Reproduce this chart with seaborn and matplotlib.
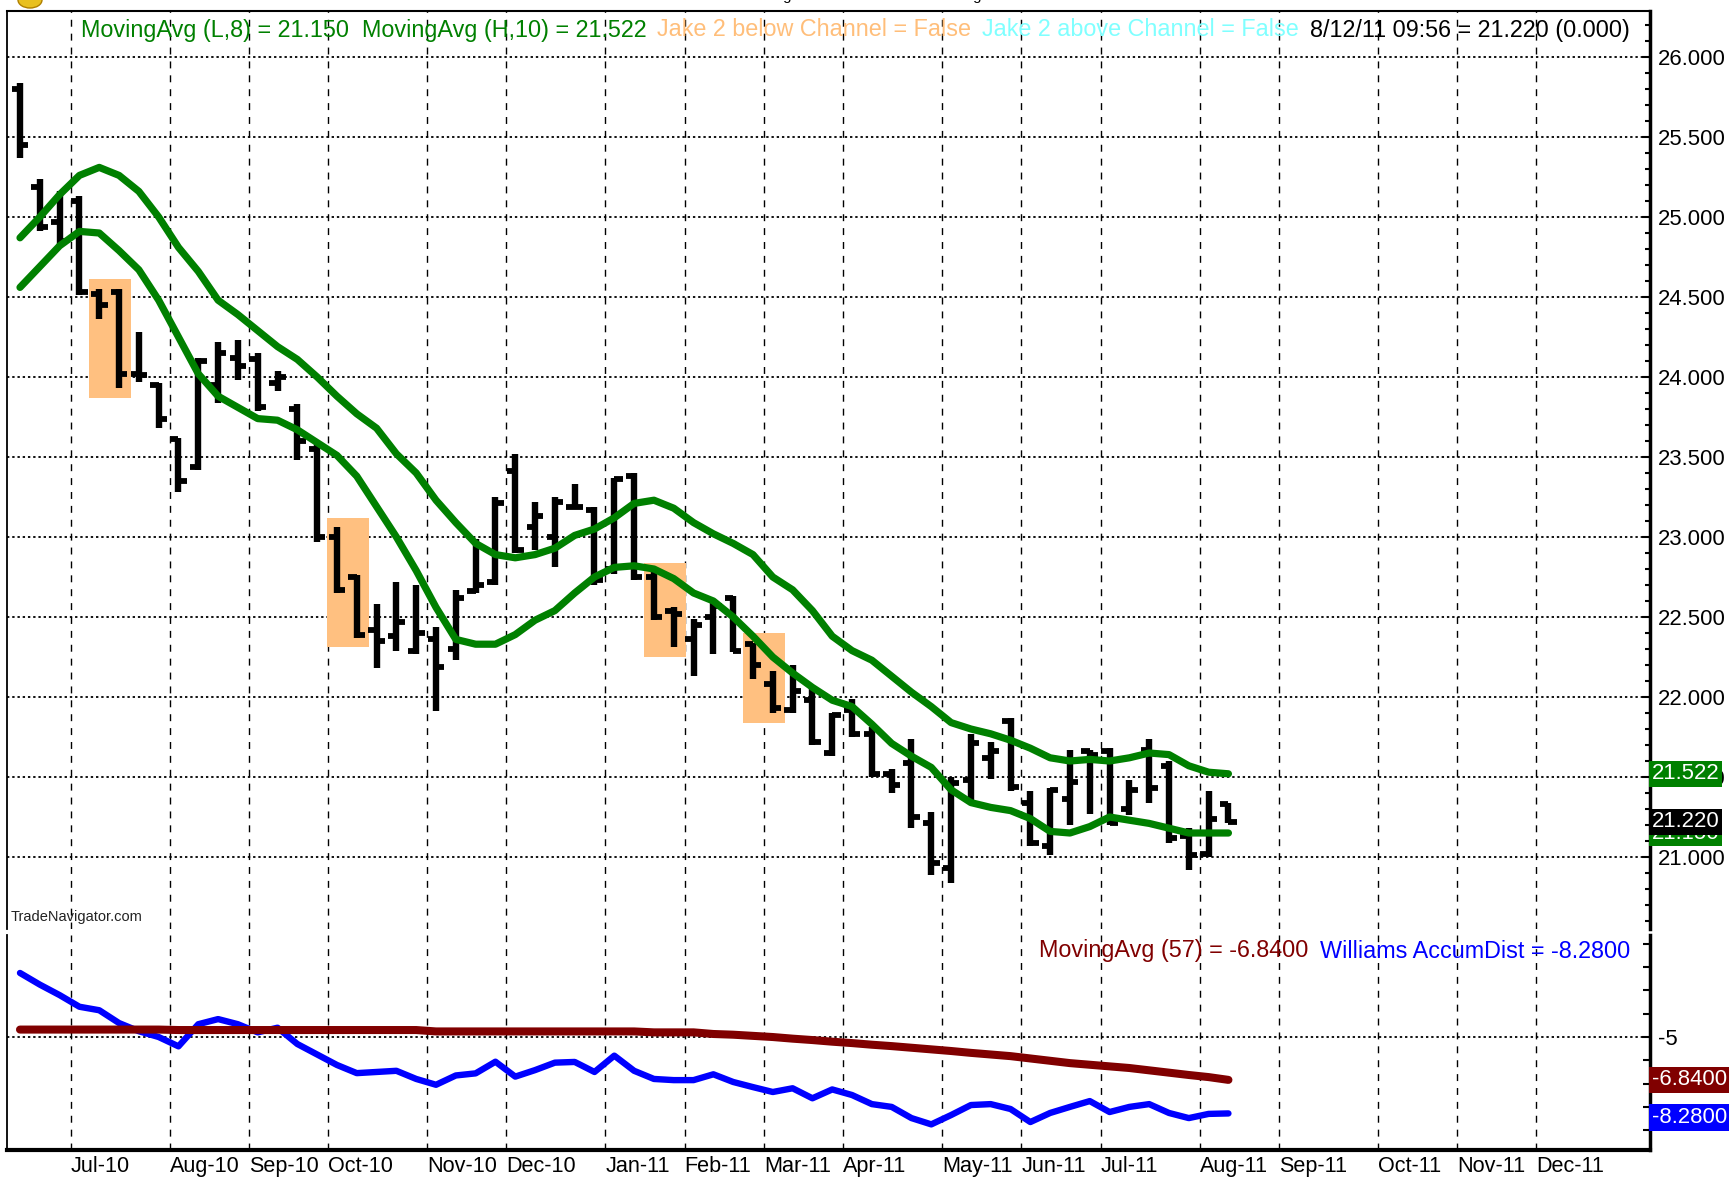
import numpy as np
import pandas as pd
import matplotlib
matplotlib.use("Agg")
import matplotlib.pyplot as plt
import seaborn as sns
from matplotlib import font_manager
from matplotlib.patches import Rectangle, Ellipse

# ---------------- data (weekly bars) ----------------
DATES = pd.date_range("2010-06-11", periods=62, freq="W-FRI")

OPEN = [25.80, 25.19, 24.97, 25.10, 24.52, 24.53, 24.02, 23.95, 23.61, 23.44,
        23.95, 24.12, 24.11, 23.96, 23.80, 23.55, 23.00, 22.75, 22.42, 22.38,
        22.29, 22.36, 22.30, 22.66, 22.72, 23.41, 23.06, 23.00, 23.19, 23.17,
        22.80, 23.38, 22.75, 22.54, 22.36, 22.50, 22.62, 22.33, 22.08, 21.92,
        21.98, 21.65, 21.92, 21.77, 21.52, 21.59, 21.21, 20.93, 21.48, 21.62,
        21.85, 21.34, 21.07, 21.36, 21.66, 21.66, 21.30, 21.67, 21.57, 21.13,
        21.02, 21.33]
HIGH = [25.84, 25.24, 25.16, 25.13, 24.55, 24.55, 24.28, 23.96, 23.62, 24.12,
        24.22, 24.23, 24.15, 24.04, 23.83, 23.59, 23.06, 22.76, 22.58, 22.72,
        22.70, 22.44, 22.67, 22.99, 23.25, 23.52, 23.22, 23.25, 23.33, 23.19,
        23.37, 23.40, 22.78, 22.56, 22.49, 22.61, 22.63, 22.34, 22.16, 22.20,
        22.06, 21.90, 21.99, 21.81, 21.55, 21.74, 21.28, 21.50, 21.77, 21.72,
        21.87, 21.41, 21.43, 21.67, 21.67, 21.68, 21.48, 21.74, 21.60, 21.18,
        21.41, 21.34]
LOW = [25.37, 24.91, 24.82, 24.51, 24.36, 23.93, 23.97, 23.68, 23.28, 23.42,
       23.84, 23.98, 23.79, 23.91, 23.48, 22.97, 22.65, 22.37, 22.18, 22.29,
       22.27, 21.91, 22.23, 22.65, 22.70, 22.90, 22.92, 22.81, 23.19, 22.70,
       22.77, 22.73, 22.48, 22.31, 22.13, 22.27, 22.28, 22.11, 21.90, 21.90,
       21.70, 21.63, 21.75, 21.50, 21.40, 21.18, 20.89, 20.84, 21.35, 21.49,
       21.41, 21.07, 21.01, 21.20, 21.27, 21.20, 21.26, 21.34, 21.09, 20.92,
       21.00, 21.21]
CLOSE = [25.45, 24.94, 24.85, 24.53, 24.45, 24.02, 24.01, 23.74, 23.35, 24.10,
         24.15, 24.07, 23.81, 24.00, 23.60, 23.00, 22.67, 22.39, 22.35, 22.47,
         22.40, 22.19, 22.62, 22.70, 23.21, 22.92, 23.13, 23.22, 23.19, 22.73,
         23.36, 22.75, 22.50, 22.52, 22.45, 22.57, 22.29, 22.20, 21.93, 22.04,
         21.72, 21.89, 21.77, 21.52, 21.45, 21.25, 20.96, 21.46, 21.71, 21.66,
         21.44, 21.09, 21.42, 21.47, 21.64, 21.21, 21.42, 21.43, 21.12, 21.01,
         21.24, 21.22]
MA_HIGH10 = [24.87, 25.00, 25.14, 25.26, 25.31, 25.26, 25.16, 25.00, 24.81, 24.66,
             24.48, 24.39, 24.29, 24.19, 24.11, 24.00, 23.88, 23.77, 23.68, 23.52,
             23.40, 23.23, 23.09, 22.96, 22.89, 22.87, 22.89, 22.93, 23.01, 23.05,
             23.12, 23.21, 23.23, 23.18, 23.09, 23.02, 22.96, 22.89, 22.75, 22.67,
             22.54, 22.38, 22.29, 22.23, 22.13, 22.03, 21.94, 21.84, 21.80, 21.77,
             21.73, 21.68, 21.62, 21.60, 21.61, 21.60, 21.62, 21.65, 21.64, 21.57,
             21.53, 21.52]
MA_LOW8 = [24.56, 24.69, 24.82, 24.91, 24.90, 24.79, 24.67, 24.48, 24.25, 24.02,
           23.88, 23.81, 23.74, 23.73, 23.67, 23.59, 23.51, 23.38, 23.19, 23.00,
           22.79, 22.56, 22.36, 22.33, 22.33, 22.39, 22.48, 22.54, 22.65, 22.75,
           22.81, 22.82, 22.80, 22.74, 22.65, 22.60, 22.50, 22.38, 22.25, 22.15,
           22.06, 21.98, 21.94, 21.83, 21.71, 21.63, 21.56, 21.42, 21.34, 21.31,
           21.29, 21.24, 21.16, 21.15, 21.19, 21.25, 21.23, 21.21, 21.18, 21.15,
           21.15, 21.15]
ACCUMDIST = [-2.25, -2.75, -3.20, -3.70, -3.85, -4.40, -4.75, -5.00, -5.40, -4.45,
             -4.23, -4.45, -4.80, -4.60, -5.30, -5.75, -6.20, -6.55, -6.50, -6.45,
             -6.80, -7.05, -6.65, -6.56, -6.06, -6.70, -6.42, -6.10, -6.07, -6.50,
             -5.80, -6.45, -6.80, -6.85, -6.85, -6.60, -6.93, -7.15, -7.36, -7.20,
             -7.63, -7.25, -7.49, -7.88, -8.00, -8.48, -8.75, -8.35, -7.92, -7.88,
             -8.09, -8.65, -8.26, -8.00, -7.75, -8.22, -8.00, -7.88, -8.26, -8.48,
             -8.30, -8.28]
MA57 = [-4.68, -4.68, -4.68, -4.68, -4.68, -4.68, -4.68, -4.68, -4.70, -4.70,
        -4.70, -4.70, -4.70, -4.70, -4.70, -4.70, -4.70, -4.70, -4.70, -4.70,
        -4.70, -4.76, -4.76, -4.76, -4.76, -4.76, -4.76, -4.76, -4.76, -4.76,
        -4.76, -4.76, -4.80, -4.80, -4.80, -4.87, -4.90, -4.95, -5.00, -5.07,
        -5.13, -5.20, -5.26, -5.33, -5.39, -5.46, -5.53, -5.60, -5.68, -5.75,
        -5.82, -5.92, -6.02, -6.12, -6.19, -6.26, -6.33, -6.43, -6.53, -6.63,
        -6.72, -6.84]

HIGHLIGHT_PAIRS = [(4, 5), (16, 17), (32, 33), (37, 38)]   # "Jake 2" signal boxes

MONTH_LABELS = ["Jul-10", "Aug-10", "Sep-10", "Oct-10", "Nov-10", "Dec-10",
                "Jan-11", "Feb-11", "Mar-11", "Apr-11", "May-11", "Jun-11",
                "Jul-11", "Aug-11", "Sep-11", "Oct-11", "Nov-11", "Dec-11"]
PRICE_TICKS = [21.0, 21.5, 22.0, 22.5, 23.0, 23.5, 24.0, 24.5, 25.0, 25.5, 26.0]

HEADER_MAIN = [("MovingAvg (L,8) = 21.150  MovingAvg (H,10) = 21.522", "#008000"),
               ("Jake 2 below Channel = False", "#FFBE7A"),
               ("Jake 2 above Channel = False", "#80FFFF"),
               ("8/12/11 09:56 = 21.220 (0.000)", "#000000")]
HEADER_SUB = [("MovingAvg (57) = -6.8400", "#800000"),
              ("Williams AccumDist = -8.2800", "#0000FF")]

# ---------------- frame ----------------
idx = np.arange(len(OPEN))
df = pd.DataFrame({"idx": idx, "date": DATES, "open": OPEN, "high": HIGH,
                   "low": LOW, "close": CLOSE, "ma_h": MA_HIGH10, "ma_l": MA_LOW8,
                   "ad": ACCUMDIST, "ma57": MA57})

# gridline positions: first weekly bar of each month (extended calendar), half a bar left
cal = pd.date_range("2010-06-11", periods=80, freq="W-FRI")
first_of_month = pd.Series(np.arange(len(cal)), index=cal).groupby([cal.year, cal.month]).min()
grid_pos = [v - 0.45 for v in first_of_month.values[1:1 + len(MONTH_LABELS)]]

sns.set_theme(style="white")
names = {f.name for f in font_manager.fontManager.ttflist}
if "Liberation Sans Narrow" in names:
    FONT, FS = "Liberation Sans Narrow", 1.0
else:
    FONT, FS = "Liberation Sans", 0.84
plt.rcParams["font.family"] = [FONT, "DejaVu Sans"]
plt.rcParams["lines.solid_joinstyle"] = "round"

W, H = 1729, 1189
fig = plt.figure(figsize=(W / 100, H / 100), dpi=100)
fig.patch.set_facecolor("white")


def fx(px):
    return px / W


def fy(py):
    return 1 - py / H


L_PX, R_PX = 7, 1650
ax = fig.add_axes([fx(L_PX), fy(929), fx(R_PX) - fx(L_PX), fy(11) - fy(929)])
ax2 = fig.add_axes([fx(L_PX), fy(1150), fx(R_PX) - fx(L_PX), fy(935) - fy(1150)])
XLIM = (-0.656, 82.28)

for a in (ax, ax2):
    a.set_facecolor("white")
    a.set_xlim(*XLIM)
    for gp in grid_pos:
        a.axvline(gp, color="black", lw=1.0, ls=(0, (5, 5)), zorder=1)

# ---------------- main price panel ----------------
ax.set_ylim(20.55, 26.2875)
for lvl in PRICE_TICKS:
    ax.axhline(lvl, color="black", lw=1.3, ls=(0, (1.3, 1.6)), zorder=1)

for a0, b0 in HIGHLIGHT_PAIRS:
    lo = min(LOW[a0:b0 + 1]) - 0.06
    hi = max(HIGH[a0:b0 + 1]) + 0.06
    ax.add_patch(Rectangle((a0 - 0.5, lo), (b0 + 0.6) - (a0 - 0.5), hi - lo,
                           facecolor="#FFC080", edgecolor="none", zorder=2))

ax.vlines(df["idx"], df["low"], df["high"], color="black", lw=4.6, zorder=3)
ax.hlines(df["open"], df["idx"] - 0.42, df["idx"], color="black", lw=4.2, zorder=3)
ax.hlines(df["close"], df["idx"], df["idx"] + 0.42, color="black", lw=4.2, zorder=3)

sns.lineplot(data=df, x="idx", y="ma_h", color="#008000", lw=5.2, ax=ax,
             legend=False, zorder=4)
sns.lineplot(data=df, x="idx", y="ma_l", color="#008000", lw=5.2, ax=ax,
             legend=False, zorder=4)

ax.set_xlabel("")
ax.set_ylabel("")
ax.set_xticks([])
ax.yaxis.tick_right()
ax.set_yticks(PRICE_TICKS)
ax.set_yticklabels([f"{v:.3f}" for v in PRICE_TICKS], fontsize=19 * FS)
ax.set_yticks(np.round(np.arange(20.6, 26.25, 0.1), 1), minor=True)
ax.tick_params(axis="y", which="both", direction="in", right=True, left=False,
               labelright=True, labelleft=False, pad=6, colors="black")
ax.tick_params(axis="y", which="major", length=6, width=1.5)
ax.tick_params(axis="y", which="minor", length=3.5, width=1.5)
for side, lw in (("top", 1.5), ("left", 1.3), ("right", 2.5)):
    ax.spines[side].set_visible(True)
    ax.spines[side].set_color("black")
    ax.spines[side].set_linewidth(lw)
ax.spines["bottom"].set_visible(False)


def value_label(axis, y, s, fc, z, dy_px=0):
    axis.annotate(s, xy=(1, y), xycoords=axis.get_yaxis_transform(),
                  xytext=(2 * 0.72, -dy_px * 0.72), textcoords="offset points",
                  ha="left", va="center", color="white", fontsize=19 * FS,
                  zorder=z, annotation_clip=False,
                  bbox=dict(boxstyle="square,pad=0.12", fc=fc, ec="none"))


value_label(ax, MA_HIGH10[-1], f"{21.522:.3f}", "#008000", 10)
value_label(ax, MA_LOW8[-1], f"{21.150:.3f}", "#008000", 10)
value_label(ax, CLOSE[-1], f"{CLOSE[-1]:.3f}", "#000000", 11)

# ---------------- lower indicator panel ----------------
ax2.set_ylim(-9.85, -0.62)
ax2.axhline(-5, color="black", lw=1.3, ls=(0, (1.3, 1.6)), zorder=1)
sns.lineplot(data=df, x="idx", y="ad", color="#0000FF", lw=4.6, ax=ax2,
             legend=False, zorder=3)
sns.lineplot(data=df, x="idx", y="ma57", color="#800000", lw=5.8, ax=ax2,
             legend=False, zorder=4)
ax2.set_xlabel("")
ax2.set_ylabel("")
ax2.yaxis.tick_right()
ax2.set_yticks([-5])
ax2.set_yticklabels(["-5"], fontsize=19 * FS)
ax2.set_yticks([-9, -8, -7, -6, -4, -3, -2, -1], minor=True)
ax2.tick_params(axis="y", which="both", direction="in", right=True, left=False,
                labelright=True, labelleft=False, pad=6, colors="black")
ax2.tick_params(axis="y", which="major", length=6, width=1.5)
ax2.tick_params(axis="y", which="minor", length=5, width=1.5)
ax2.set_xticks(grid_pos)
ax2.set_xticklabels(MONTH_LABELS, ha="left", fontsize=18.5 * FS)
ax2.tick_params(axis="x", length=0, pad=4, colors="black")
for side, lw in (("bottom", 3.0), ("left", 1.3), ("right", 2.5)):
    ax2.spines[side].set_visible(True)
    ax2.spines[side].set_color("black")
    ax2.spines[side].set_linewidth(lw)
ax2.spines["top"].set_visible(False)

value_label(ax2, MA57[-1], "-6.8400", "#800000", 10)
value_label(ax2, ACCUMDIST[-1], "-8.2800", "#0000FF", 11, dy_px=4)

# ---------------- header texts ----------------
renderer = fig.canvas.get_renderer()


def header_chain(items, y_px, right_px, size):
    x_right = right_px
    for text, color in reversed(items):
        t = fig.text(fx(x_right), fy(y_px), text, ha="right", va="center",
                     color=color, fontsize=size, zorder=20)
        bb = t.get_window_extent(renderer=renderer)
        x_right = bb.x0 - 11


header_chain(HEADER_MAIN, 30, 1630, 20 * FS)
header_chain(HEADER_SUB, 951, 1630, 20 * FS)

fig.text(fx(11), fy(917), "TradeNavigator.com", ha="left", va="center",
         color="#222222", fontsize=12.5 * FS)
fig.text(fx(871), fy(-4), "www.TradeNavigator.com \u00a9 1999-2011 All rights reserved",
         ha="center", va="center", color="black", fontsize=13 * FS)
fig.add_artist(Ellipse((fx(30), fy(0)), 24 / W, 16 / H, facecolor="#E8C020",
                       edgecolor="#B08000", lw=1, transform=fig.transFigure))

fig.savefig("out.png", dpi=100, facecolor="white")
